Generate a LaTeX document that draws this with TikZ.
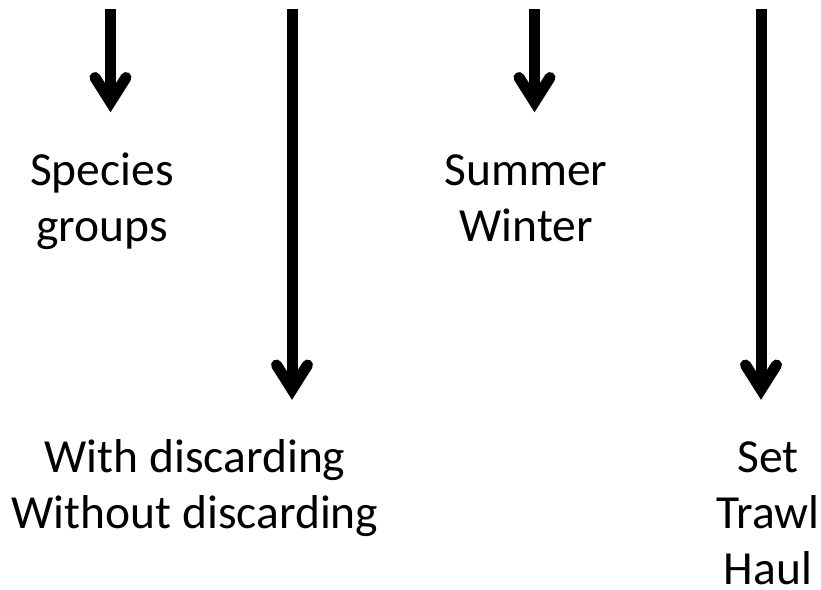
\documentclass[tikz,border=0pt]{standalone}
\usepackage{fontspec}
\setmainfont{Carlito}
\usetikzlibrary{calc}
\begin{document}
\begin{tikzpicture}[x=1pt,y=-1pt,
  flow/.style={line width=11pt, line cap=butt},
  head/.style={line width=11pt, line cap=round, line join=miter},
  label/.style={font=\fontsize{47.5}{56}\selectfont, align=center, inner sep=0pt, anchor=base}]
  \useasboundingbox (0,0) rectangle (821,589);
  % arrow start points and tip points
  \coordinate (s1) at (110.5,9);  \coordinate (e1) at (110.5,102);
  \coordinate (s2) at (292,9);    \coordinate (e2) at (292,389.5);
  \coordinate (s3) at (534.5,9);  \coordinate (e3) at (534.5,102);
  \coordinate (s4) at (761,9);    \coordinate (e4) at (761,389.5);
  \foreach \i in {1,...,4}{
    \draw[flow] (s\i) -- (e\i);
    \draw[head] ($(e\i)+(-15.5,-24.5)$) -- (e\i) -- ($(e\i)+(15.5,-24.5)$);
  }
  % labels (anchored at the baseline of the last line)
  \node[label] (species) at (102,241) {Species\\groups};
  \node[label] (season) at (526,241) {Summer\\Winter};
  \node[label] (discard) at (195,528) {With discarding\\Without discarding};
  \node[label] (gear) at (768,584) {Set\\Trawl\\Haul};
\end{tikzpicture}
\end{document}
